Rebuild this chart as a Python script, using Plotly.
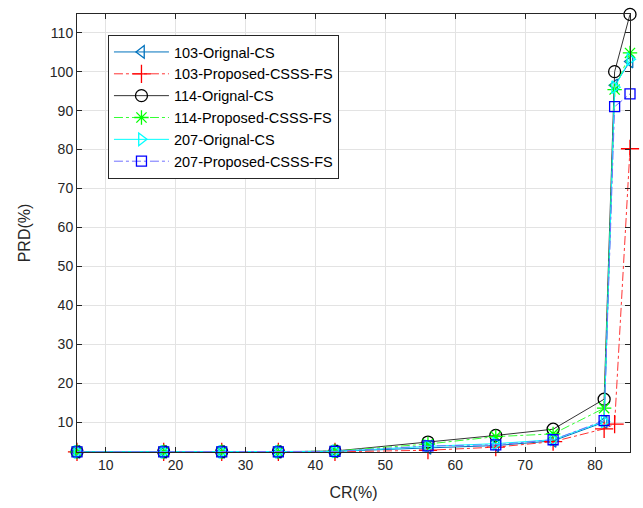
import plotly.graph_objects as go

cr = [5.9, 18.3, 26.6, 34.7, 42.8, 56.1, 65.8, 74.0, 81.3, 82.8, 85.0]

prd_103_orig = [2.4, 2.4, 2.4, 2.4, 2.5, 3.4, 4.0, 5.2, 10.0, 96.5, 102.6]
prd_103_prop = [2.4, 2.4, 2.4, 2.4, 2.4, 2.8, 3.6, 5.0, 8.3, 9.5, 80.2]
prd_114_orig = [2.4, 2.4, 2.4, 2.4, 2.6, 4.9, 6.6, 8.2, 15.9, 100.0, 114.7]
prd_114_prop = [2.4, 2.4, 2.4, 2.4, 2.6, 4.4, 6.3, 7.0, 13.6, 95.4, 104.8]
prd_207_orig = [2.4, 2.4, 2.4, 2.4, 2.5, 3.8, 4.5, 5.5, 10.2, 96.0, 103.2]
prd_207_prop = [2.4, 2.4, 2.4, 2.4, 2.5, 3.9, 4.2, 5.5, 10.4, 91.0, 94.3]

names = ["103-Orignal-CS", "103-Proposed-CSSS-FS", "114-Orignal-CS",
         "114-Proposed-CSSS-FS", "207-Orignal-CS", "207-Proposed-CSSS-FS"]
series = [prd_103_orig, prd_103_prop, prd_114_orig, prd_114_prop, prd_207_orig, prd_207_prop]
line_colors = ["#0072BD", "#FF3333", "#333333", "#33FF33", "#00FFFF", "#7070FF"]
marker_colors = ["#0072BD", "#FF0000", "#000000", "#00FF00", "#00FFFF", "#0000FF"]
dashes = ["solid", "dashdot", "solid", "dashdot", "solid", "dashdot"]
symbols = ["triangle-left-open", "cross-thin-open", "circle-open",
           "asterisk-open", "triangle-right-open", "square-open"]
sizes = [11, 13, 12, 12, 11, 10]

fig = go.Figure()
for n, s, lc, mc, d, sym, sz in zip(names, series, line_colors, marker_colors, dashes, symbols, sizes):
    fig.add_trace(go.Scatter(
        x=cr, y=s, name=n, mode="lines+markers", cliponaxis=False,
        line=dict(color=lc, width=1, dash=d),
        marker=dict(symbol=sym, size=sz, color=mc, line=dict(color=mc, width=1.3)),
    ))

axis_common = dict(
    showgrid=True, gridcolor="#E3E3E3", gridwidth=1,
    showline=True, linecolor="#262626", linewidth=1, mirror="ticks",
    ticks="inside", ticklen=5, tickcolor="#262626", zeroline=False,
    automargin=False,
    tickfont=dict(family="Liberation Sans, Arial, sans-serif", size=14, color="#262626"),
)

fig.update_layout(
    width=643, height=508,
    margin=dict(l=77, r=13, t=14, b=56),
    paper_bgcolor="white", plot_bgcolor="white",
    font=dict(family="Liberation Sans, Arial, sans-serif", color="#262626"),
    xaxis=dict(range=[5.9, 85.0], tickvals=[10, 20, 30, 40, 50, 60, 70, 80],
               title=dict(text="CR(%)", font=dict(size=16), standoff=15), **axis_common),
    yaxis=dict(range=[2.35, 114.8], tickvals=[10, 20, 30, 40, 50, 60, 70, 80, 90, 100, 110],
               title=dict(text="PRD(%)", font=dict(size=16), standoff=15), **axis_common),
    legend=dict(x=0.056, y=0.952, xanchor="left", yanchor="top",
                bgcolor="white", bordercolor="#262626", borderwidth=1,
                font=dict(size=14.5, color="#000000"), itemwidth=55),
    showlegend=True,
)

fig.write_html(
    "out.html",
    config={"displayModeBar": False},
    post_script="document.body.style.margin='0';document.body.style.padding='0';document.body.style.overflow='hidden';",
)
